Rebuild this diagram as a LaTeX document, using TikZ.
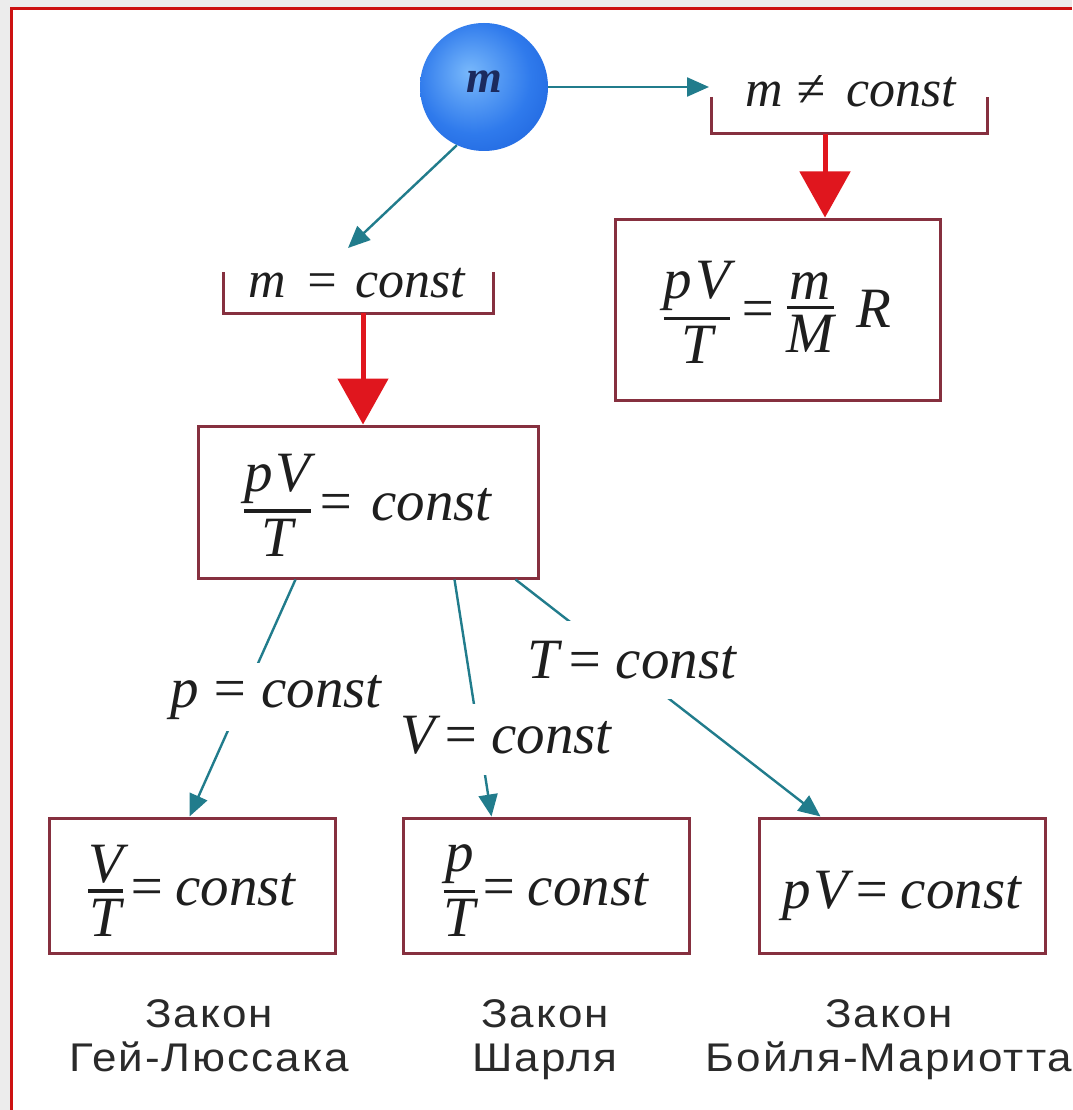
\documentclass[tikz,border=0pt]{standalone}
\usepackage{fontspec}
\setmainfont{Liberation Serif}
\newfontfamily\lblfont[LetterSpace=5,FakeStretch=1.1]{Liberation Sans}
\usetikzlibrary{arrows.meta,calc}
\definecolor{tealc}{HTML}{217C8C}
\definecolor{redc}{HTML}{E0161E}
\definecolor{boxc}{HTML}{86303F}
\definecolor{framec}{HTML}{CC1111}
\definecolor{ballin}{HTML}{78B8FB}
\definecolor{ballmid}{HTML}{2F7AEC}
\definecolor{ballout}{HTML}{0E4FCF}
\definecolor{ballm}{HTML}{1B2A5E}
\definecolor{txt}{HTML}{1E1E1E}
\definecolor{lblc}{HTML}{2A2A2A}
\definecolor{bgc}{HTML}{ECECEC}
\pgfdeclareradialshading{myball}{\pgfpoint{-6bp}{6bp}}{color(0bp)=(ballin); color(22bp)=(ballmid); color(48bp)=(ballout); color(60bp)=(ballout)}
\newcommand\myfrac[2]{\leavevmode\begingroup
  \setbox0\vbox{\offinterlineskip\halign{\hfil##\hfil\cr #1\cr
    \noalign{\kern6pt\hrule height 3.5pt\kern6pt}#2\cr}}%
  \dimen0=\dimexpr .27em-(\ht0-\dp0)/2\relax
  \raise\dimen0\box0\endgroup}
\newcommand\lowerby[2]{\raisebox{-#1}[\height][\depth]{#2}}
\begin{document}
\begin{tikzpicture}[x=1pt,y=-1pt,
  tline/.style={draw=tealc,line width=2.4pt},
  tarrow/.style={tline,-{Triangle[length=22pt,width=19pt]}},
  rarrow/.style={draw=redc,line width=5pt,-{Triangle[length=46pt,width=50pt]}},
  eqbox/.style={draw=boxc,line width=3pt,inner sep=0pt,font=\itshape\fontsize{57}{62}\selectfont,text=txt},
  brkt/.style={draw=boxc,line width=3pt},
  brknode/.style={inner sep=0pt,outer sep=0pt},
  mtext/.style={font=\itshape\fontsize{57}{62}\selectfont,text=txt,inner sep=0pt},
  btext/.style={font=\itshape\fontsize{52}{58}\selectfont,text=txt,inner sep=0pt},
  cond/.style={mtext,fill=white,inner xsep=2pt,inner ysep=12pt},
  lawlbl/.style={font=\lblfont\fontsize{40}{44}\selectfont,text=lblc,align=center,inner sep=0pt,anchor=north}]
\useasboundingbox (0,0) rectangle (1072,1110);
\fill[bgc] (0,0) rectangle (1072,1110);
\fill[white] (11,9) rectangle (1072,1110);
\draw[framec,line width=3pt] (11,1110) -- (11,9) -- (1072,9);

% ball
\node[circle,minimum size=128pt,inner sep=0pt,shading=myball,font=\bfseries\itshape\fontsize{46}{50}\selectfont,text=ballm] (ball) at (484,87) {\raisebox{10pt}{m}};

% brackets
\node[btext,anchor=base] (neq) at (851,107) {m\kern13pt≠\kern22pt const};
\node[brknode,minimum width=276pt,minimum height=37pt] (neqb) at (849,115.5) {};
\draw[brkt] (neqb.north west) -- (neqb.south west) -- (neqb.south east) -- (neqb.north east);
\node[btext,anchor=base] (eq) at (357,297) {m\kern18pt=\kern16pt const};
\node[brknode,minimum width=270pt,minimum height=41pt] (eqb) at (358,292.5) {};
\draw[brkt] (eqb.north west) -- (eqb.south west) -- (eqb.south east) -- (eqb.north east);

% boxes
\node[eqbox,minimum width=325pt,minimum height=181pt] (ideal) at (777.5,309.5) {\lowerby{3pt}{\myfrac{p\kern3pt V}{T}\kern8pt=\kern10pt\myfrac{m}{M}\kern22pt R}};
\node[eqbox,minimum width=340pt,minimum height=152pt] (pvt) at (368,502) {\lowerby{3pt}{\myfrac{p\kern3pt V}{T}\kern6pt=\kern16pt const}};
\node[eqbox,minimum width=286pt,minimum height=135pt] (bl) at (192,885.5) {\lowerby{5pt}{\myfrac{V}{T}\kern4pt=\kern10pt const}};
\node[eqbox,minimum width=286pt,minimum height=135pt] (bm) at (546,885.5) {\lowerby{5pt}{\myfrac{p}{T}\kern4pt=\kern10pt const}};
\node[eqbox,minimum width=286pt,minimum height=135pt] (br) at (902,885.5) {\lowerby{10pt}{p\kern2pt V\kern4pt=\kern10pt const}};

% connectors
\draw[tarrow,shorten >=2pt] (ball.east) -- (ball.east -| neqb.west);
\draw[tarrow] (ball.-115) -- ($(eqb.north west)+(125,-24)$);
\draw[rarrow] ($(eqb.south)+(5,0)$) -- ($(pvt.north)+(-5,0)$);
\draw[rarrow] ($(neqb.south)+(-24,0)$) -- ($(ideal.north)+(47.5,0)$);
\draw[tarrow] ($(pvt.south west)+(99,0)$) -- ($(bl.north west)+(142,0)$);
\draw[tarrow] ($(pvt.south west)+(258,0)$) -- ($(bm.north west)+(90,0)$);
\draw[tarrow] ($(pvt.south west)+(319,0)$) -- ($(br.north west)+(63,0)$);

% condition labels
\node[cond,anchor=base] (plab) at (276,707) {p\kern12pt=\kern12pt const};
\node[cond,anchor=base] (vlab) at (506,753) {V\kern6pt=\kern12pt const\rule[-10pt]{0pt}{0pt}};
\node[cond,anchor=base,inner ysep=20pt] (tlab) at (632,678) {T\kern6pt=\kern12pt const};

% law names
\node[lawlbl] (law1) at (209,999) {Закон\\Гей-Люссака};
\node[lawlbl] (law2) at (545,999) {Закон\\Шарля};
\node[lawlbl] (law3) at (889,999) {Закон\\Бойля-Мариотта};
\end{tikzpicture}
\end{document}
